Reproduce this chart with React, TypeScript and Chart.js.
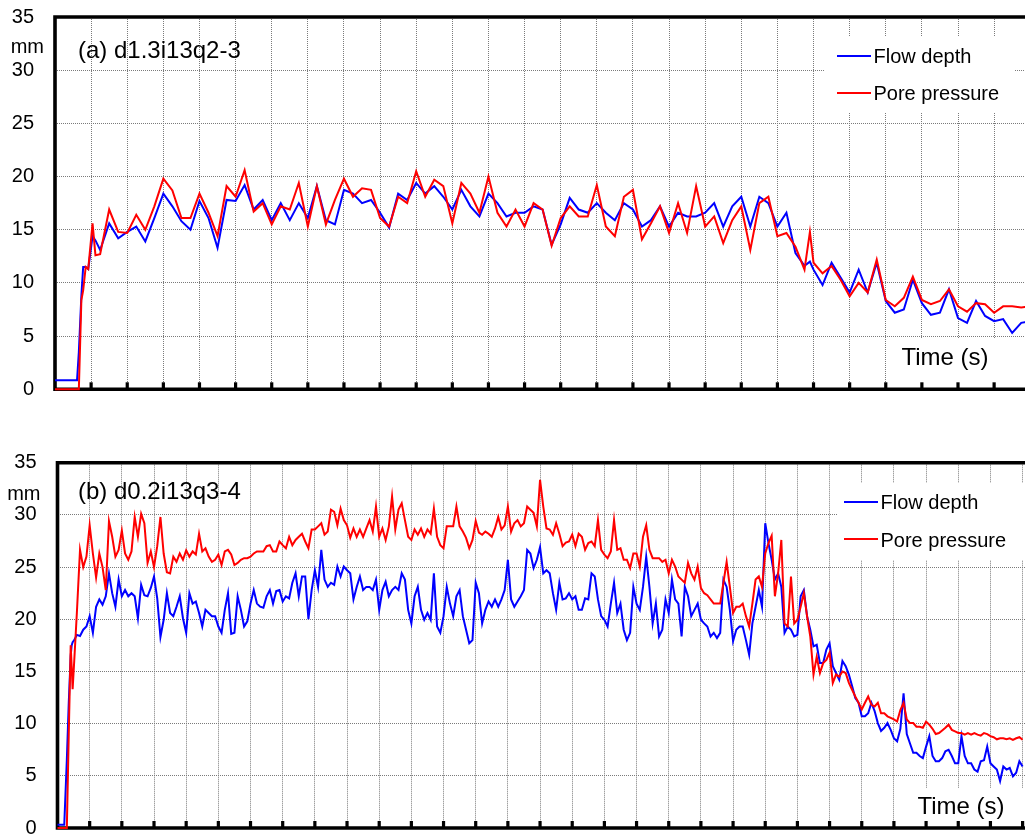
import React, { useEffect, useRef } from "react";
import { Chart, registerables } from "chart.js";

Chart.register(...registerables);

const FONT = '"Liberation Sans", Arial, Helvetica, sans-serif';
const SERIES_NAMES = ["Flow depth", "Pore pressure"];
const COLOR_DEPTH = "#0000ff";
const COLOR_PORE = "#ff0000";
const Y_MIN = 0;
const Y_MAX = 35;
const Y_STEP = 5;
const X_LABEL = "Time (s)";
const Y_UNIT = "mm";

// ---------- Panel (a) d1.3i13q2-3 ----------
const TITLE_A = "(a) d1.3i13q2-3";
const TIME_A = [
  0, 0.61, 0.66, 0.73, 0.78, 0.85, 0.92, 1.04, 1.12, 1.25,
  1.5, 1.75, 2, 2.25, 2.5, 2.75, 3, 3.25, 3.5, 3.75, 4, 4.25, 4.5, 4.75, 5, 5.25, 5.5, 5.75,
  6, 6.25, 6.5, 6.75, 7, 7.25, 7.5, 7.75, 8, 8.25, 8.5, 8.75, 9, 9.25, 9.5, 9.75, 10, 10.25,
  10.5, 10.75, 11, 11.25, 11.5, 11.75, 12, 12.25, 12.5, 12.75, 13, 13.25, 13.5, 13.75, 14,
  14.25, 14.5, 14.75, 15, 15.25, 15.5, 15.75, 16, 16.25, 16.5, 16.75, 17, 17.25, 17.5, 17.75,
  18, 18.25, 18.5, 18.75, 19, 19.25, 19.5, 19.75, 20, 20.25, 20.5, 20.75, 20.9, 21, 21.25,
  21.5, 21.75, 22, 22.25, 22.5, 22.75, 23, 23.25, 23.5, 23.75, 24, 24.25, 24.5, 24.75, 25,
  25.25, 25.5, 25.75, 26, 26.25, 26.5, 26.75, 27,
];
const DEPTH_A = [
  0.85, 0.85, 3.5, 8.8, 11.5, 11.5, 11.3, 14.4, 14.0, 13.1,
  15.6, 14.2, 14.8, 15.3, 13.9, 16.1, 18.4, 17.2, 15.8, 15.0, 17.7, 16.1, 13.3, 17.8, 17.7, 19.2, 16.9, 17.8,
  15.9, 17.5, 15.9, 17.5, 16.1, 19.1, 15.9, 15.5, 18.75, 18.4, 17.5, 17.8, 16.6, 15.2, 18.4, 17.8, 19.4, 18.4,
  19.1, 18.1, 16.9, 18.75, 17.2, 16.25, 18.4, 17.5, 16.25, 16.6, 16.6, 17.2, 16.9, 13.6, 15.5,
  18.0, 16.9, 16.6, 17.5, 16.6, 15.9, 17.5, 16.9, 15.3, 15.9, 17.2, 15.3, 16.6, 16.25, 16.25,
  16.6, 17.5, 15.3, 17.2, 18.1, 15.3, 18.1, 17.5, 15.3, 16.6, 12.8, 11.6, 12.0, 11.25, 9.8,
  11.9, 10.5, 9.1, 11.25, 9.1, 11.9, 8.3, 7.2, 7.5, 10.3, 8.1, 7.0, 7.2, 9.4, 6.7,
  6.25, 8.3, 6.9, 6.4, 6.6, 5.3, 6.25, 6.4,
];
const PORE_A = [
  0, 0, 0, 8.4, 9.3, 11.5, 11.3, 15.6, 12.6, 12.7,
  16.9, 14.8, 14.7, 16.4, 15.0, 17.2, 19.8, 18.7, 16.1, 16.1, 18.4, 16.6, 14.4, 19.1, 18.1, 20.6, 16.7, 17.5,
  15.5, 17.2, 16.9, 19.4, 15.3, 19.1, 15.5, 17.8, 19.8, 18.1, 18.9, 18.75, 16.1, 15.3, 18.1, 17.5, 20.5, 18.1,
  19.7, 19.1, 15.6, 19.4, 18.4, 16.6, 20.0, 16.6, 15.3, 16.9, 15.3, 17.5, 16.9, 13.5, 16.1,
  17.2, 16.25, 16.25, 19.2, 15.3, 14.4, 18.1, 18.75, 14.1, 15.6, 17.2, 14.7, 17.5, 14.7, 19.1,
  15.3, 16.25, 13.75, 15.9, 17.2, 13.1, 17.5, 18.1, 14.4, 14.7, 13.4, 11.25, 14.8, 11.9, 10.9,
  11.6, 10.3, 8.75, 10.0, 9.1, 12.2, 8.4, 7.8, 8.6, 10.6, 8.4, 8.0, 8.3, 9.4, 7.8,
  7.3, 8.1, 8.0, 7.2, 7.8, 7.8, 7.7, 7.8,
];

// ---------- Panel (b) d0.2i13q3-4 ----------
const TITLE_B = "(b) d0.2i13q3-4";
const TIME_B = [
  0, 0.21, 0.29, 0.35, 0.41, 0.44, 0.47, 0.52,
  0.6, 0.7, 0.8, 0.9, 1.0, 1.1, 1.2, 1.3, 1.4, 1.5,
  1.6, 1.7, 1.8, 1.9, 2.0, 2.1, 2.2, 2.3, 2.4, 2.5,
  2.6, 2.7, 2.8, 2.9, 3.0, 3.1, 3.2, 3.3, 3.4, 3.5,
  3.6, 3.7, 3.8, 3.9, 4.0, 4.1, 4.2, 4.3, 4.4, 4.5,
  4.6, 4.7, 4.8, 4.9, 5.0, 5.1, 5.2, 5.3, 5.4, 5.5,
  5.6, 5.7, 5.8, 5.9, 6.0, 6.1, 6.2, 6.3, 6.4, 6.5,
  6.6, 6.7, 6.8, 6.9, 7.0, 7.1, 7.2, 7.3, 7.4, 7.5,
  7.6, 7.7, 7.8, 7.9, 8.0, 8.1, 8.2, 8.3, 8.4, 8.5,
  8.6, 8.7, 8.8, 8.9, 9.0, 9.1, 9.2, 9.3, 9.4, 9.5,
  9.6, 9.7, 9.8, 9.9, 10.0, 10.1, 10.2, 10.3, 10.4, 10.5,
  10.6, 10.7, 10.8, 10.9, 11.0, 11.1, 11.2, 11.3, 11.4, 11.5,
  11.6, 11.7, 11.8, 11.9, 12.0, 12.1, 12.2, 12.3, 12.4, 12.5,
  12.6, 12.7, 12.8, 12.9, 13.0, 13.1, 13.2, 13.3, 13.4, 13.5,
  13.6, 13.7, 13.8, 13.9, 14.0, 14.1, 14.2, 14.3, 14.4, 14.5,
  14.6, 14.7, 14.8, 14.9, 15.0, 15.1, 15.2, 15.3, 15.4, 15.5,
  15.6, 15.7, 15.8, 15.9, 16.0, 16.1, 16.2, 16.3, 16.4, 16.5,
  16.6, 16.7, 16.8, 16.9, 17.0, 17.1, 17.2, 17.3, 17.4, 17.5,
  17.6, 17.7, 17.8, 17.9, 18.0, 18.1, 18.2, 18.3, 18.4, 18.5,
  18.6, 18.7, 18.8, 18.9, 19.0, 19.1, 19.2, 19.3, 19.4, 19.5,
  19.6, 19.7, 19.8, 19.9, 20.0, 20.1, 20.2, 20.3, 20.4, 20.5,
  20.6, 20.7, 20.8, 20.9, 21.0, 21.1, 21.2, 21.3, 21.4, 21.5,
  21.6, 21.7, 21.8, 21.9, 22.0, 22.1, 22.2, 22.3, 22.4, 22.5,
  22.6, 22.7, 22.8, 22.9, 23.0, 23.1, 23.2, 23.3, 23.4, 23.5,
  23.6, 23.7, 23.8, 23.9, 24.0, 24.1, 24.2, 24.3, 24.4, 24.5,
  24.6, 24.7, 24.8, 24.9, 25.0, 25.1, 25.2, 25.3, 25.4, 25.5,
  25.6, 25.7, 25.8, 25.9, 26.0, 26.1, 26.2, 26.3, 26.4, 26.5,
  26.6, 26.7, 26.8, 26.9, 27.0, 27.1, 27.2, 27.3, 27.4, 27.5,
  27.6, 27.7, 27.8, 27.9, 28.0, 28.1, 28.2, 28.3, 28.4, 28.5,
  28.6, 28.7, 28.8, 28.9, 29.0, 29.1, 29.2, 29.3, 29.4, 29.5,
  29.6, 29.7, 29.8, 29.9, 30.0,
];
const DEPTH_B = [
  0.3, 0.3, 6.5, 12, 16.5, 17.5, 17.8, 18.0,
  18.5, 18.4, 19.0, 19.3, 20.3, 18.7, 21.2, 21.9, 21.4, 22.2,
  24.4, 22.5, 21.2, 23.8, 22.2, 22.8, 22.2, 22.5, 22.2, 20.1,
  23.3, 22.3, 22.2, 23.0, 24.1, 22.0, 18.3, 19.95, 22.5, 20.6,
  20.3, 21.2, 22.2, 20.1, 18.7, 22.5, 21.5, 21.7, 20.6, 19.3,
  20.9, 20.6, 20.3, 20.3, 19.3, 18.7, 20.9, 22.5, 18.6, 18.7,
  22.2, 20.9, 19.3, 19.8, 21.5, 22.8, 21.5, 21.2, 21.1, 22.2,
  22.8, 21.5, 22.7, 22.8, 21.7, 22.2, 22.0, 23.5, 24.4, 22.2,
  24.1, 24.1, 20.0, 22.8, 24.7, 23.1, 26.65, 23.8, 23.1, 23.5,
  23.3, 25.05, 24.1, 25.05, 24.7, 24.4, 21.9, 23.1, 24.1, 22.8,
  23.1, 23.1, 22.8, 23.8, 20.9, 22.8, 23.6, 22.2, 22.8, 23.1,
  22.8, 24.4, 23.8, 20.9, 19.6, 22.2, 23.1, 20.9, 19.95, 20.6,
  19.95, 24.4, 19.3, 18.7, 20.3, 23.1, 21.5, 20.3, 22.2, 22.8,
  20.3, 19.0, 17.7, 18.0, 23.5, 22.5, 19.6, 20.9, 21.7, 21.2,
  21.9, 21.2, 21.9, 22.8, 25.7, 21.9, 21.2, 21.7, 22.2, 22.8,
  26.65, 26.3, 24.9, 25.7, 26.9, 24.4, 24.7, 24.4, 22.5, 20.9,
  23.5, 21.9, 22.0, 22.5, 21.9, 22.2, 20.9, 20.9, 22.0, 21.9,
  24.4, 24.1, 21.9, 20.3, 19.95, 19.3, 21.5, 23.5, 20.6, 21.5,
  19.0, 18.0, 18.7, 23.1, 21.5, 20.9, 23.1, 26.0, 23.1, 19.6,
  21.5, 18.35, 19.0, 21.9, 20.6, 23.8, 21.9, 21.5, 18.35, 23.1,
  22.2, 20.3, 20.9, 21.5, 19.95, 19.6, 19.3, 18.35, 18.7, 18.2,
  18.7, 23.8, 23.1, 20.9, 17.9, 19.0, 19.3, 19.3, 18.0, 16.6,
  19.6, 21.2, 22.8, 21.2, 29.2, 27.3, 25.7, 23.8, 24.4, 23.1,
  18.7, 19.3, 19.0, 18.35, 18.5, 22.2, 22.8, 20.3, 19.0, 17.4,
  17.55, 15.8, 15.8, 17.1, 17.7, 15.5, 14.85, 14.2, 16.0, 15.5,
  14.7, 13.6, 12.45, 12.0, 10.7, 10.7, 11.0, 12.0, 11.2, 10.05,
  9.3, 9.6, 10.05, 9.4, 8.6, 8.3, 9.5, 12.9, 9.0, 8.1,
  7.2, 7.2, 6.9, 6.7, 7.8, 8.8, 6.9, 6.4, 6.4, 6.7,
  7.35, 7.5, 6.9, 6.2, 6.2, 8.8, 6.9, 6.2, 6.2, 5.6,
  5.4, 6.4, 6.5, 7.8, 6.2, 5.9, 5.6, 4.5, 5.9, 5.6,
  5.75, 4.95, 5.3, 6.4, 5.9,
];
const PORE_B = [
  0, 0, 0, 9, 17.5, 15.5, 13.3, 16.0,
  20.5, 26.65, 25.0, 26.0, 29.0, 26.3, 24.0, 26.3, 25.0, 22.8,
  29.4, 27.9, 26.0, 26.65, 28.5, 26.3, 25.7, 26.5, 29.8, 27.9,
  30.1, 29.2, 25.4, 26.5, 25.0, 27.0, 29.8, 26.3, 24.5, 24.4,
  26.0, 25.5, 26.3, 25.7, 26.6, 26.0, 26.5, 26.2, 28.2, 26.5,
  26.8, 26.0, 25.5, 25.7, 26.2, 25.2, 26.5, 26.65, 26.2, 25.2,
  25.4, 25.7, 25.85, 25.85, 26.0, 26.3, 26.5, 26.5, 26.5, 27.0,
  27.1, 26.5, 26.5, 27.45, 27.1, 26.8, 27.9, 27.1, 27.6, 27.9,
  28.2, 27.45, 26.8, 28.6, 28.6, 28.9, 29.2, 28.1, 28.4, 30.5,
  30.3, 29.0, 30.6, 29.5, 29.0, 27.8, 28.7, 27.9, 28.6, 27.9,
  28.7, 29.5, 28.4, 30.8, 27.9, 28.7, 27.6, 28.9, 31.75, 28.6,
  30.5, 31.1, 29.5, 27.9, 27.6, 28.6, 28.1, 28.7, 27.9, 28.6,
  28.2, 30.6, 27.9, 27.1, 26.8, 28.9, 28.9, 28.9, 30.8, 28.9,
  28.4, 27.8, 26.8, 27.6, 29.4, 28.3, 28.1, 28.4, 28.2, 27.9,
  28.7, 29.8, 28.6, 29.0, 30.8, 28.4, 29.2, 29.5, 28.9, 29.2,
  30.8, 30.5, 30.2, 28.9, 33.35, 30.8, 28.7, 28.6, 28.1, 29.2,
  28.2, 27.0, 27.35, 27.45, 28.1, 27.0, 28.2, 27.9, 26.65, 27.3,
  27.45, 27.0, 29.5, 26.65, 26.2, 25.85, 26.5, 29.5, 26.65, 26.8,
  25.7, 25.7, 24.9, 26.3, 26.3, 25.05, 27.9, 29.0, 26.65, 25.85,
  25.85, 25.85, 25.5, 25.7, 24.4, 25.7, 25.05, 24.1, 23.8, 23.5,
  25.4, 24.4, 23.8, 25.05, 23.0, 22.5, 22.3, 21.9, 21.5, 21.5,
  21.5, 23.5, 25.5, 23.1, 20.6, 21.2, 21.2, 21.5, 20.3, 19.3,
  21.5, 23.8, 24.1, 23.1, 26.3, 27.3, 28.0, 22.2, 24.4, 27.6,
  19.6, 19.3, 24.1, 19.6, 19.95, 21.2, 22.5, 20.3, 18.35, 14.7,
  16.4, 14.85, 15.8, 16.1, 16.8, 13.9, 14.7, 14.5, 15.0, 14.85,
  13.9, 13.25, 12.6, 12.0, 11.35, 12.0, 12.6, 11.8, 11.65, 12.0,
  11.0, 11.0, 10.7, 10.55, 10.4, 10.2, 11.3, 12.0, 10.4, 10.05,
  10.05, 9.7, 9.7, 9.6, 10.2, 9.9, 9.5, 9.0, 9.1, 9.35,
  9.6, 9.9, 9.4, 9.25, 9.1, 9.1, 8.95, 9.1, 8.95, 9.1,
  8.95, 8.85, 9.1, 9.0, 8.8, 8.7, 8.5, 8.6, 8.6, 8.5,
  8.6, 8.45, 8.6, 8.7, 8.45,
];

// ---------- Layout (page coordinates) ----------
type Box = [number, number, number, number];
interface PanelLayout {
  canvasTop: number;
  canvasWidth: number;
  canvasHeight: number;
  areaLeft: number;
  areaTop: number;
  areaBottom: number;
  gridStep: number;
  xMax: number;
  titleX: number;
  titleY: number;
  mmX: number;
  mmY: number;
  legendBox: Box;
  legendLineX0: number;
  legendLineX1: number;
  legendTextX: number;
  legendLineY: [number, number];
  legendTextY: [number, number];
  timeBox: Box;
  timeX: number;
  timeY: number;
}

const LAYOUT_A: PanelLayout = {
  canvasTop: 0,
  canvasWidth: 1070,
  canvasHeight: 410,
  areaLeft: 55,
  areaTop: 17,
  areaBottom: 389.3,
  gridStep: 36.12,
  xMax: 28,
  titleX: 78,
  titleY: 57.5,
  mmX: 10.7,
  mmY: 53,
  legendBox: [825, 36, 190, 77],
  legendLineX0: 837,
  legendLineX1: 871,
  legendTextX: 873.5,
  legendLineY: [56, 93],
  legendTextY: [63, 100],
  timeBox: [890, 338, 112, 44],
  timeX: 901.5,
  timeY: 365,
};

const LAYOUT_B: PanelLayout = {
  canvasTop: 420,
  canvasWidth: 1060,
  canvasHeight: 430,
  areaLeft: 57.5,
  areaTop: 462.7,
  areaBottom: 828,
  gridStep: 32.17,
  xMax: 31,
  titleX: 78,
  titleY: 499,
  mmX: 7.2,
  mmY: 500,
  legendBox: [837, 483, 200, 77],
  legendLineX0: 844,
  legendLineX1: 878,
  legendTextX: 880.5,
  legendLineY: [502, 539],
  legendTextY: [509, 546.5],
  timeBox: [905, 788, 125, 38],
  timeX: 917.5,
  timeY: 814,
};

const GRID_COLOR = "#7a7a7a";
const FRAME_W = 3.6;
const LABEL_GAP = 21;

function makeDecorPlugin(L: PanelLayout, title: string) {
  const oy = L.canvasTop;
  return {
    id: "panelDecor",
    beforeDatasetsDraw(chart: any) {
      const ctx: CanvasRenderingContext2D = chart.ctx;
      const area = chart.chartArea;
      const W = chart.width;
      ctx.save();
      // white boxes over the grid (legend, axis title)
      ctx.fillStyle = "#ffffff";
      const lb = L.legendBox;
      ctx.fillRect(lb[0], lb[1] - oy, lb[2], lb[3]);
      const tb = L.timeBox;
      ctx.fillRect(tb[0], tb[1] - oy, tb[2], tb[3]);

      // frame
      ctx.strokeStyle = "#000";
      ctx.lineWidth = FRAME_W;
      ctx.lineCap = "butt";
      ctx.beginPath();
      ctx.moveTo(area.left, area.top - FRAME_W / 2);
      ctx.lineTo(area.left, area.bottom + FRAME_W / 2);
      ctx.moveTo(area.left - FRAME_W / 2, area.top);
      ctx.lineTo(W, area.top);
      ctx.moveTo(area.left - FRAME_W / 2, area.bottom);
      ctx.lineTo(W, area.bottom);
      ctx.stroke();

      // inner tick marks on the time axis
      const xs = chart.scales.x;
      ctx.fillStyle = "#000";
      for (const t of xs.ticks) {
        if (t.value <= 0) continue;
        const px = xs.getPixelForValue(t.value);
        ctx.fillRect(px - 1.6, area.bottom - 7, 3.2, 7);
      }

      // legend
      const colors = [COLOR_DEPTH, COLOR_PORE];
      ctx.font = `20px ${FONT}`;
      ctx.textBaseline = "alphabetic";
      ctx.textAlign = "left";
      for (let i = 0; i < 2; i++) {
        ctx.strokeStyle = colors[i];
        ctx.lineWidth = 2;
        ctx.beginPath();
        ctx.moveTo(L.legendLineX0, L.legendLineY[i] - oy);
        ctx.lineTo(L.legendLineX1, L.legendLineY[i] - oy);
        ctx.stroke();
        ctx.fillStyle = "#000";
        ctx.fillText(SERIES_NAMES[i], L.legendTextX, L.legendTextY[i] - oy);
      }

      // axis unit and time label
      ctx.fillStyle = "#000";
      ctx.font = `20px ${FONT}`;
      ctx.fillText(Y_UNIT, L.mmX, L.mmY - oy);
      ctx.font = `24px ${FONT}`;
      ctx.fillText(X_LABEL, L.timeX, L.timeY - oy);
      // panel title
      ctx.fillText(title, L.titleX, L.titleY - oy);
      ctx.restore();
    },
  };
}

function buildConfig(L: PanelLayout, title: string, time: number[], depth: number[], pore: number[]) {
  const areaTop = L.areaTop - L.canvasTop;
  const areaBottom = L.areaBottom - L.canvasTop;
  const right = L.areaLeft + L.xMax * L.gridStep;
  return {
    type: "line",
    data: {
      datasets: [
        {
          label: SERIES_NAMES[0],
          data: time.map((t, i) => ({ x: t, y: depth[i] })),
          borderColor: COLOR_DEPTH,
          borderWidth: 2,
          pointRadius: 0,
          tension: 0,
          fill: false,
          clip: false,
          order: 2,
        },
        {
          label: SERIES_NAMES[1],
          data: time.map((t, i) => ({ x: t, y: pore[i] })),
          borderColor: COLOR_PORE,
          borderWidth: 2,
          pointRadius: 0,
          tension: 0,
          fill: false,
          clip: false,
          order: 1,
        },
      ],
    },
    options: {
      responsive: false,
      animation: false,
      devicePixelRatio: 1,
      events: [],
      layout: {
        padding: {
          left: 0,
          top: areaTop,
          right: L.canvasWidth - right,
          bottom: L.canvasHeight - areaBottom,
        },
      },
      plugins: {
        legend: { display: false },
        tooltip: { enabled: false },
        title: { display: false },
      },
      scales: {
        x: {
          type: "linear",
          min: 0,
          max: L.xMax,
          afterFit: (s: any) => {
            s.height = 0;
          },
          ticks: { display: false, stepSize: 1, autoSkip: false },
          grid: { color: GRID_COLOR, lineWidth: 1, drawTicks: false },
          border: { display: false, dash: [1, 1] },
        },
        y: {
          type: "linear",
          min: Y_MIN,
          max: Y_MAX,
          afterFit: (s: any) => {
            s.width = L.areaLeft;
          },
          ticks: {
            stepSize: Y_STEP,
            padding: 0,
            color: "#000",
            font: { family: FONT, size: 20 },
          },
          grid: {
            color: GRID_COLOR,
            lineWidth: 1,
            drawTicks: true,
            tickLength: LABEL_GAP,
            tickColor: "rgba(0,0,0,0)",
          },
          border: { display: false, dash: [1, 1] },
        },
      },
    },
    plugins: [makeDecorPlugin(L, title)],
  };
}

function Panel(props: {
  layout: PanelLayout;
  title: string;
  time: number[];
  depth: number[];
  pore: number[];
}) {
  const ref = useRef<HTMLCanvasElement | null>(null);
  useEffect(() => {
    if (!ref.current) return;
    const chart = new Chart(
      ref.current,
      buildConfig(props.layout, props.title, props.time, props.depth, props.pore) as any
    );
    return () => chart.destroy();
  }, []);
  const L = props.layout;
  return (
    <canvas
      ref={ref}
      width={L.canvasWidth}
      height={L.canvasHeight}
      style={{
        position: "absolute",
        left: 0,
        top: L.canvasTop,
        width: L.canvasWidth,
        height: L.canvasHeight,
      }}
    />
  );
}

export default function App() {
  return (
    <div
      style={{
        position: "absolute",
        left: 0,
        top: 0,
        width: 1025,
        height: 837,
        overflow: "hidden",
        background: "#ffffff",
      }}
    >
      <Panel layout={LAYOUT_A} title={TITLE_A} time={TIME_A} depth={DEPTH_A} pore={PORE_A} />
      <Panel layout={LAYOUT_B} title={TITLE_B} time={TIME_B} depth={DEPTH_B} pore={PORE_B} />
    </div>
  );
}
